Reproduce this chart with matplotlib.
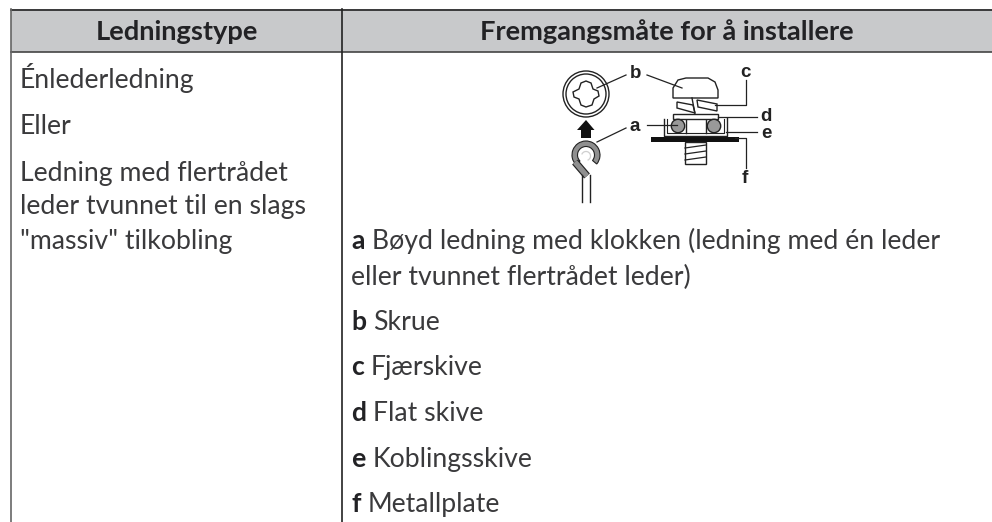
import matplotlib
matplotlib.use('Agg')
from matplotlib import pyplot as plt
from matplotlib.patches import Arc, Circle, Polygon, Rectangle, Wedge

plt.rcParams["font.family"] = ["Lato", "DejaVu Sans"]

headers = ["Ledningstype", "Fremgangsmåte for å installere"]
left_rows = ["Énlederledning", "Eller", "Ledning med flertrådet",
             "leder tvunnet til en slags", "\"massiv\" tilkobling"]
left_y = [88, 134, 181, 214, 249]
right_rows = [("a", "Bøyd ledning med klokken (ledning med én leder"),
              ("", "eller tvunnet flertrådet leder)"),
              ("b", "Skrue"), ("c", "Fjærskive"), ("d", "Flat skive"),
              ("e", "Koblingsskive"), ("f", "Metallplate")]
right_y = [249, 285, 330, 375, 421, 467, 512]
callouts = [("a", 635, 131), ("b", 636, 78), ("c", 745, 77), ("d", 766, 121),
            ("e", 766, 138), ("f", 745, 183)]

text_col = "#3a3a3c"
line_col = "#222222"
fs = 19.2
fs_head = 19.6

fig = plt.figure(figsize=(9.92, 5.22), dpi=100)
ax = fig.add_axes([0, 0, 1, 1])
ax.set_xlim(0, 992)
ax.set_ylim(522, 0)
ax.axis("off")

# table frame
ax.add_patch(Rectangle((11, 9), 981, 43, fc="#c8c9cb", ec="none"))
ax.plot([11, 992], [9.5, 9.5], color=line_col, lw=1.2)
ax.plot([11, 992], [52, 52], color="#444444", lw=1.2)
ax.plot([11, 11], [9, 522], color="#666666", lw=1.2)
ax.plot([342, 342], [9, 522], color=line_col, lw=1.2)

ax.text(177, 40, headers[0], ha="center", va="baseline", fontsize=fs_head, fontweight="bold", color="#222225")
ax.text(667, 40, headers[1], ha="center", va="baseline", fontsize=fs_head, fontweight="bold", color="#222225")

for s, y in zip(left_rows, left_y):
    ax.text(20, y, s, va="baseline", fontsize=fs, color=text_col)

fig.canvas.draw()
rend = fig.canvas.get_renderer()
for (key, s), y in zip(right_rows, right_y):
    x = 351
    if key:
        t = ax.text(x, y, key, va="baseline", fontsize=fs, fontweight="bold", color="#222225")
        x = t.get_window_extent(rend).x1 + 7
    ax.text(x, y, s, va="baseline", fontsize=fs, color=text_col)

# screw seen from above
ax.add_patch(Circle((586, 94), 23, fc="white", ec="#222222", lw=1))
ax.add_patch(Circle((586, 94), 20, fc="white", ec="#222222", lw=1))
cross = [(586, 81), (591, 83), (593, 89), (598, 91), (599, 96), (594, 99), (592, 105),
         (586, 107), (581, 105), (579, 99), (574, 97), (573, 92), (579, 89), (581, 83)]
ax.add_patch(Polygon(cross, closed=True, fc="white", ec="#222222", lw=1))

# arrow
ax.add_patch(Polygon([(586, 120), (594.5, 130), (591, 130), (591, 138), (581, 138), (581, 130), (577, 130)],
                     closed=True, fc="#111111", ec="none"))

# bent wire
ax.plot([575, 587], [162, 176], color="#222222", lw=5.5, solid_capstyle="butt")
ax.plot([575, 587], [162, 176], color="#8f8f8f", lw=3.8, solid_capstyle="butt")
ax.add_patch(Wedge((586, 155), 14, 135, 400, width=5.5, fc="#8f8f8f", ec="#222222", lw=0.8))
ax.add_patch(Arc((586, 156), 9, 9, theta1=200, theta2=430, color="#cfcfcf", lw=0.9))
ax.plot([582, 582], [175, 202], color="#222222", lw=1)
ax.plot([590, 590], [175, 202], color="#222222", lw=1)

# screw head, side view
ax.add_patch(Polygon([(673, 98), (673, 88), (678, 80), (686, 78), (708, 78), (715, 82), (718, 90), (718, 98)],
                     closed=True, fc="white", ec="#222222", lw=1))
# spring washer
ax.plot([692, 695], [98, 114], color="#222222", lw=1)
ax.add_patch(Polygon([(677, 102), (693, 105), (695, 113), (677, 108)], closed=True, fc="white", ec="#222222", lw=1))
ax.add_patch(Polygon([(697, 100), (717, 104), (717, 111), (698, 107)], closed=True, fc="white", ec="#222222", lw=1))
# flat washer and terminal
ax.add_patch(Rectangle((673, 114), 45, 5, fc="white", ec="#222222", lw=1))
ax.plot([664, 664, 727, 727], [119, 136, 136, 118], color="#222222", lw=1)
ax.plot([667, 667, 724, 724], [119, 133, 133, 119], color="#222222", lw=0.8)
ax.add_patch(Circle((678, 126), 6.7, fc="#999999", ec="#222222", lw=1))
ax.add_patch(Circle((714, 126), 6.7, fc="#999999", ec="#222222", lw=1))
ax.plot([686, 686], [120, 133], color="#222222", lw=1)
ax.plot([706, 706], [120, 133], color="#222222", lw=1)
# plate
ax.add_patch(Rectangle((651, 137), 88, 4.5, fc="#111111", ec="none"))
# thread
ax.add_patch(Rectangle((685, 141.5), 21, 22, fc="white", ec="#222222", lw=1))
for y0 in [148, 154, 160]:
    ax.plot([685, 706], [y0, y0 - 3], color="#222222", lw=0.9)

# leader lines
leaders = [([597, 626], [88, 75]), ([647, 682], [75, 88]), ([597, 626], [142, 128]),
           ([647, 677], [125, 125]), ([746, 746, 715], [80, 105, 105]), ([718, 757], [117, 117]),
           ([726, 757], [132, 132]), ([735, 746, 746], [138, 138, 168])]
for xs, ys in leaders:
    ax.plot(xs, ys, color="#222222", lw=0.9)

for s, x, y in callouts:
    ax.text(x, y, s, ha="center", va="baseline", fontsize=13.5, fontweight="bold", family="Liberation Sans", color="#222222")

fig.savefig("out.png", dpi=100)
plt.close()
